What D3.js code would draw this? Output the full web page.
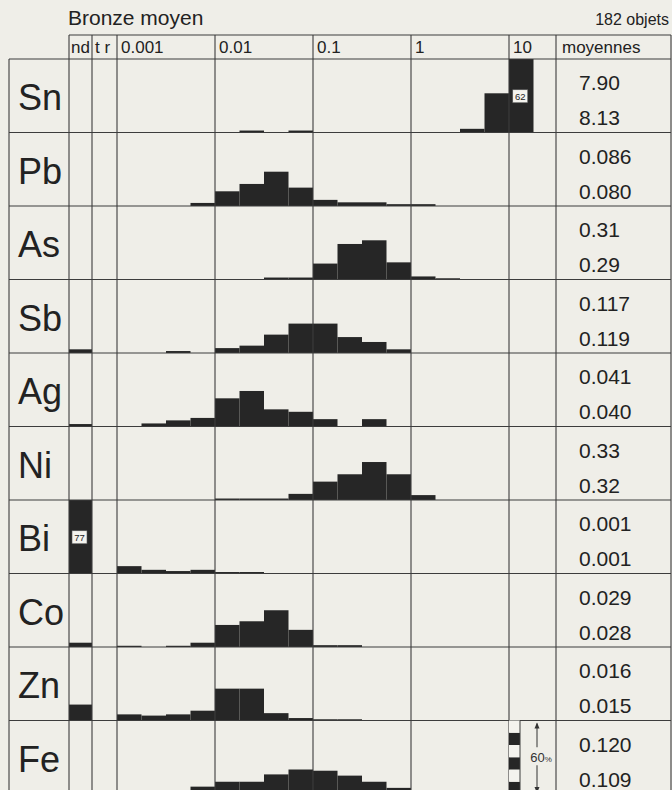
<!DOCTYPE html>
<html>
<head>
<meta charset="utf-8">
<script src="https://cdn.jsdelivr.net/npm/d3@7"></script>
<style>
  body { margin: 0; background: #efeee8; }
  svg { display: block; font-family: "Liberation Sans", Arial, Helvetica, sans-serif; }
</style>
</head>
<body>
<svg id="chart" width="672" height="790"></svg>
<script>
// elements and their two mean values (right column)
const elements = ['Sn', 'Pb', 'As', 'Sb', 'Ag', 'Ni', 'Bi', 'Co', 'Zn', 'Fe'];
const meanTop = ['7.90', '0.086', '0.31', '0.117', '0.041', '0.33', '0.001', '0.029', '0.016', '0.120'];
const meanBottom = ['8.13', '0.080', '0.29', '0.119', '0.040', '0.32', '0.001', '0.028', '0.015', '0.109'];

// % of objects "nd" (not detected)
const ndValues = [0, 0, 0, 3, 2, 0, 77, 3.5, 13, 0];

// % of objects per quarter-decade bin, bin 0 starts at 0.001
const snBins = [0, 0, 0, 0, 0, 1.6, 0, 1.6, 0, 0, 0, 0, 0, 0, 3, 32, 62];
const pbBins = [0, 0, 0, 2.5, 12, 18, 28, 15, 5, 3, 3, 1.5, 1.5, 0, 0, 0, 0];
const asBins = [0, 0, 0, 0, 0, 0, 1.6, 1.6, 13, 29, 32, 14, 2.5, 1, 0, 0, 0];
const sbBins = [0, 0, 1.6, 0, 4, 6, 15, 24, 24, 13, 9, 3, 0, 0, 0, 0, 0];
const agBins = [0, 2.5, 5, 7, 23, 29, 14, 12, 6, 0, 6, 0, 0, 0, 0, 0, 0];
const niBins = [0, 0, 0, 0, 1.2, 1.2, 1.2, 5, 15, 21, 31, 21, 4, 0, 0, 0, 0];
const biBins = [6, 3, 2, 3, 1.2, 1.2, 0, 0, 0, 0, 0, 0, 0, 0, 0, 0, 0];
const coBins = [1, 0, 1, 3.5, 18, 21, 30, 14, 1.5, 1.5, 0, 0, 0, 0, 0, 0, 0];
const znBins = [5, 4, 5, 8, 26, 26, 6, 2, 1, 1, 0, 0, 0, 0, 0, 0, 0];
const feBins = [0, 0, 0, 6, 10, 10, 16, 20, 19, 15, 10, 5, 0, 0, 0, 0, 0];
const histograms = [snBins, pbBins, asBins, sbBins, agBins, niBins, biBins, coBins, znBins, feBins];

const tickValues = [0.001, 0.01, 0.1, 1, 10];
const tickLabels = ['0.001', '0.01', '0.1', '1', '10'];
const scaleSteps = [0, 10, 20, 30, 40, 50]; // 60% reference strip

const ink = '#262626';
const lineCol = '#3c3c3c';

const svg = d3.select('#chart');

// column layout
const leftX = 9, ndX = 69, trX = 92, rightX = 671, meanX = 556;
const headerTop = 35, rowsTop = 59, rowH = 73.5;
const bottomY = rowsTop + rowH * elements.length;

const x = d3.scaleLog().domain([0.001, 10]).range([117, 509]);
const yRow = d3.scaleBand().domain(elements).range([rowsTop, bottomY]);
const h = d3.scaleLinear().domain([0, 60]).range([0, rowH]).clamp(true);

// title
svg.append('text').attr('x', 68).attr('y', 25).attr('font-size', 21).attr('fill', '#222').text('Bronze moyen');
svg.append('text').attr('x', 669).attr('y', 25).attr('font-size', 16).attr('fill', '#222')
  .attr('text-anchor', 'end').text('182 objets');

// header labels
const hdr = svg.append('g').attr('font-size', 17).attr('fill', '#222');
hdr.append('text').attr('x', ndX + 2).attr('y', 53).text('nd');
hdr.append('text').attr('x', trX + 3).attr('y', 53).text('t r');
hdr.selectAll('text.tick').data(tickValues).enter().append('text')
  .attr('class', 'tick')
  .attr('x', d => x(d) + 4).attr('y', 53)
  .text((d, i) => tickLabels[i]);
hdr.append('text').attr('x', meanX + 6).attr('y', 53).text('moyennes');

// bars
const bars = svg.append('g').attr('fill', ink);
elements.forEach((el, i) => {
  const base = yRow(el) + rowH;
  const bins = histograms[i].map((v, k) => ({
    x0: Math.pow(10, -3 + k / 4),
    x1: Math.pow(10, -3 + (k + 1) / 4),
    v: v
  })).filter(d => d.v > 0);
  bars.selectAll(null).data(bins).enter().append('rect')
    .attr('x', d => x(d.x0))
    .attr('width', d => x(d.x1) - x(d.x0))
    .attr('y', d => base - h(d.v))
    .attr('height', d => h(d.v));
  if (ndValues[i] > 0) {
    bars.append('rect')
      .attr('x', ndX).attr('width', trX - ndX)
      .attr('y', base - h(ndValues[i])).attr('height', h(ndValues[i]));
  }
});

// labels for bars that exceed the 60% row height
const over = [];
elements.forEach((el, i) => {
  if (ndValues[i] > 60) over.push({ el, v: ndValues[i], cx: (ndX + trX) / 2 });
  histograms[i].forEach((v, k) => {
    if (v > 60) over.push({ el, v, cx: (x(Math.pow(10, -3 + k / 4)) + x(Math.pow(10, -3 + (k + 1) / 4))) / 2 });
  });
});
const ov = svg.append('g').selectAll('g').data(over).enter().append('g')
  .attr('transform', d => `translate(${d.cx - 1},${yRow(d.el) + rowH / 2 + 1})`);
ov.append('rect').attr('x', -7.5).attr('y', -7).attr('width', 15).attr('height', 13)
  .attr('fill', '#f4f3ee').attr('stroke', '#555').attr('stroke-width', 0.6);
ov.append('text').attr('text-anchor', 'middle').attr('y', 3.5).attr('font-size', 9.5)
  .attr('fill', '#222').text(d => d.v);

// grid lines
const grid = svg.append('g').attr('stroke', lineCol).attr('stroke-width', 1.1);
grid.append('line').attr('x1', ndX).attr('x2', rightX).attr('y1', headerTop).attr('y2', headerTop);
grid.selectAll('line.row').data(elements.concat(['end'])).enter().append('line')
  .attr('x1', leftX).attr('x2', rightX)
  .attr('y1', (d, i) => rowsTop + i * rowH).attr('y2', (d, i) => rowsTop + i * rowH);
grid.append('line').attr('x1', leftX).attr('x2', leftX).attr('y1', rowsTop).attr('y2', bottomY);
[ndX, trX, rightX, meanX].concat(tickValues.map(d => x(d))).forEach(v => {
  grid.append('line').attr('x1', v).attr('x2', v).attr('y1', headerTop).attr('y2', bottomY);
});

// element names and means
const rows = svg.append('g').selectAll('g').data(elements).enter().append('g')
  .attr('transform', d => `translate(0,${yRow(d)})`);
rows.append('text').attr('x', 18).attr('y', 51).attr('font-size', 36).attr('fill', '#222').text(d => d);
rows.append('text').attr('x', 579).attr('y', 31).attr('font-size', 21).attr('fill', '#222').text((d, i) => meanTop[i]);
rows.append('text').attr('x', 579).attr('y', 66).attr('font-size', 21).attr('fill', '#222').text((d, i) => meanBottom[i]);

// 60% reference strip in the last row
const lastTop = yRow(elements[elements.length - 1]);
const lastBase = lastTop + rowH;
const stripX = x(10), stripW = 11;
const strip = svg.append('g');
strip.selectAll('rect').data(scaleSteps).enter().append('rect')
  .attr('x', stripX).attr('width', stripW)
  .attr('y', d => lastBase - h(d + 10)).attr('height', h(10))
  .attr('fill', (d, i) => i % 2 === 0 ? ink : '#f4f3ee');
strip.append('line').attr('x1', stripX + stripW).attr('x2', stripX + stripW)
  .attr('y1', lastTop).attr('y2', lastBase).attr('stroke', lineCol).attr('stroke-width', 1);

const ax = 537, mid = lastBase - h(30);
const arr = svg.append('g').attr('stroke', '#333').attr('stroke-width', 1);
arr.append('line').attr('x1', ax).attr('x2', ax).attr('y1', lastBase - h(60) + 3).attr('y2', mid - 10);
arr.append('line').attr('x1', ax).attr('x2', ax).attr('y1', mid + 8).attr('y2', lastBase - 2);
svg.append('path').attr('fill', '#333')
  .attr('d', `M${ax},${lastBase - h(60) + 2} l-2.5,6 l5,0 z`);
svg.append('path').attr('fill', '#333')
  .attr('d', `M${ax},${lastBase - 1} l-2.5,-6 l5,0 z`);
const pct = svg.append('text').attr('x', ax + 4).attr('y', mid + 5).attr('text-anchor', 'middle')
  .attr('fill', '#333').attr('font-size', 13);
pct.append('tspan').text('60');
pct.append('tspan').attr('font-size', 8).text('%');
</script>
</body>
</html>
